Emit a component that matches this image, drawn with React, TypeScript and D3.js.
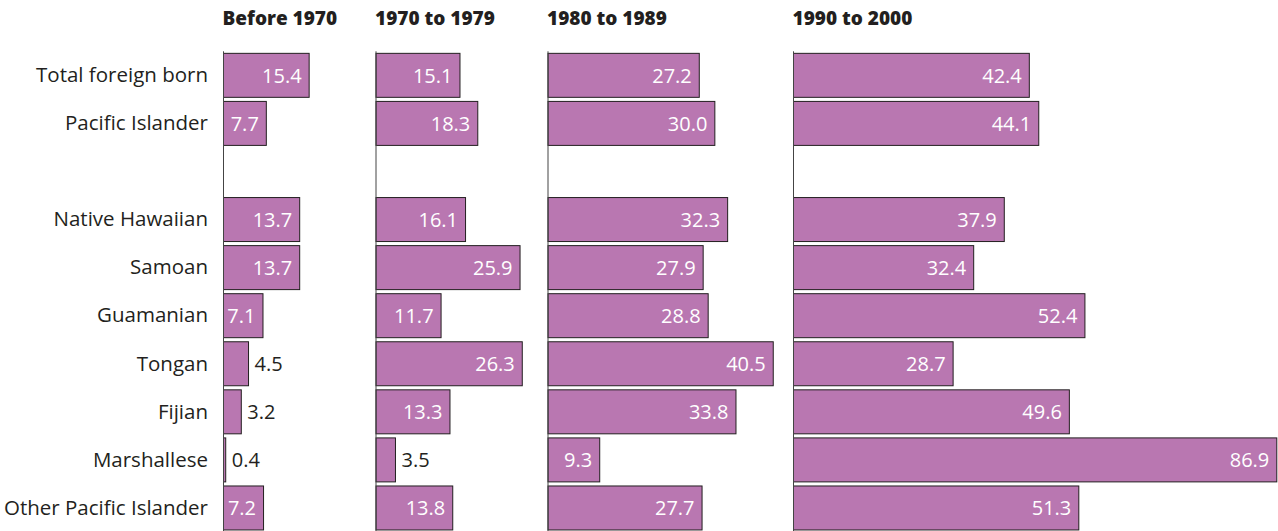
import * as d3 from "d3";

const categories = [
  "Total foreign born",
  "Pacific Islander",
  "",
  "Native Hawaiian",
  "Samoan",
  "Guamanian",
  "Tongan",
  "Fijian",
  "Marshallese",
  "Other Pacific Islander",
];

const periods = ["Before 1970", "1970 to 1979", "1980 to 1989", "1990 to 2000"];

const before1970 = [15.4, 7.7, null, 13.7, 13.7, 7.1, 4.5, 3.2, 0.4, 7.2];
const from1970 = [15.1, 18.3, null, 16.1, 25.9, 11.7, 26.3, 13.3, 3.5, 13.8];
const from1980 = [27.2, 30.0, null, 32.3, 27.9, 28.8, 40.5, 33.8, 9.3, 27.7];
const from1990 = [42.4, 44.1, null, 37.9, 32.4, 52.4, 28.7, 49.6, 86.9, 51.3];

const series = [before1970, from1970, from1980, from1990];

// where each panel's baseline sits
const panelX = [223.5, 376, 548, 793.5];

const FILL = "#b977b1";
const DARK = "#231f20";
const FONT = "'Open Sans', 'Noto Sans', sans-serif";

export default function App() {
  const width = 1278;
  const height = 531;

  const y = d3
    .scaleBand<string>()
    .domain(categories.map((c, i) => `${i}`))
    .range([51.3, 532])
    .paddingInner(0.085)
    .paddingOuter(0.0425);

  const x = d3.scaleLinear().domain([0, 86.9]).range([0, 483.3]);

  return (
    <svg
      width={width}
      height={height}
      style={{ position: "absolute", left: 0, top: 0 }}
      fontFamily={FONT}
    >
      {/* row labels */}
      {categories.map((c, i) => (
        <text
          key={"c" + i}
          x={208}
          y={y(`${i}`)! + y.bandwidth() / 2 + 6.8}
          textAnchor="end"
          fontSize={20.5}
          fill={DARK}
        >
          {c}
        </text>
      ))}

      {series.map((vals, p) => (
        <g key={"p" + p} transform={`translate(${panelX[p]},0)`}>
          <text x={-1} y={25} fontSize={19} fontWeight={800} fill={DARK}>
            {periods[p]}
          </text>
          {vals.map((v, i) => {
            if (v === null) return null;
            const top = y(`${i}`)!;
            const w = x(v);
            const inside = w > 36;
            return (
              <g key={"b" + i}>
                <rect
                  x={0}
                  y={top}
                  width={w}
                  height={y.bandwidth()}
                  fill={FILL}
                  stroke={DARK}
                  strokeWidth={1}
                />
                <text
                  x={inside ? w - 7.5 : w + 6}
                  y={top + y.bandwidth() / 2 + 7.5}
                  textAnchor={inside ? "end" : "start"}
                  fontSize={20}
                  fill={inside ? "#ffffff" : DARK}
                >
                  {v.toFixed(1)}
                </text>
              </g>
            );
          })}
          <line
            x1={0}
            x2={0}
            y1={y.range()[0]}
            y2={height}
            stroke="#444"
            strokeWidth={1}
          />
        </g>
      ))}
    </svg>
  );
}
